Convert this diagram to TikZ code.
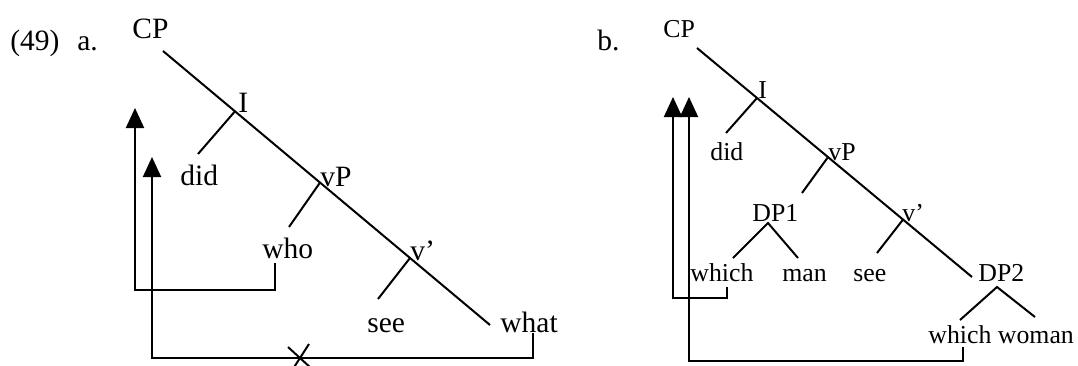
\documentclass[tikz,border=0pt]{standalone}
\usepackage{fontspec}
\setmainfont{Liberation Serif}
\usetikzlibrary{arrows.meta}
\begin{document}
\begin{tikzpicture}[x=0.5pt,y=-0.5pt,
  lab/.style={anchor=base west,inner sep=0pt,font=\fontsize{14.75}{17}\selectfont},
  labb/.style={anchor=base west,inner sep=0pt,font=\fontsize{12.9}{15}\selectfont},
  edge/.style={line width=1pt},
  mv/.style={line width=1pt,-{Triangle[length=10pt,width=9pt]}}]
\useasboundingbox (0,0) rectangle (1078,365);

% ---------- panel a ----------
\node[lab] (ex) at (10,50) {(49)};
\node[lab] (la) at (77,50) {a.};
\node[lab] (cpa) at (132,38) {CP};
\node[lab] (Ia) at (238,112) {I};
\node[lab] (dida) at (180,185) {did};
\node[lab] (vPa) at (320,186) {vP};
\node[lab] (whoa) at (262,258) {who};
\node[lab] (vba) at (410,260) {v’};
\node[lab] (seea) at (367,332) {see};
\node[lab] (whata) at (500,332) {what};

\coordinate (sa) at (163,51);
\coordinate (ea) at (490,325);
\coordinate (jIa) at (235,111.3);
\coordinate (jvPa) at (320,182.6);
\coordinate (jva) at (410,258);
\coordinate (tdida) at (198,154);
\coordinate (twhoa) at (289,227);
\coordinate (tseea) at (378,299);

\draw[edge] (sa) -- (ea);
\draw[edge] (jIa) -- (tdida);
\draw[edge] (jvPa) -- (twhoa);
\draw[edge] (jva) -- (tseea);

% movement arrows a
\coordinate (ma1) at (275,263);
\coordinate (ma2) at (275,290);
\coordinate (ma3) at (135,290);
\coordinate (ma4) at (135,108);
\draw[mv] (ma1) -- (ma2) -- (ma3) -- (ma4);
\coordinate (na1) at (533,333);
\coordinate (na2) at (533,358);
\coordinate (na3) at (152,358);
\coordinate (na4) at (152,157);
\draw[mv] (na1) -- (na2) -- (na3) -- (na4);
% crossing mark
\coordinate (x1) at (288,347);
\coordinate (x2) at (312,369);
\coordinate (x3) at (309,344);
\coordinate (x4) at (291,372);
\draw[edge] (x1) -- (x2);
\draw[edge] (x3) -- (x4);

% ---------- panel b ----------
\node[lab] (lb) at (597,50) {b.};
\node[labb] (cpb) at (663,37) {CP};
\node[labb] (Ib) at (758,98) {I};
\node[labb] (didb) at (710,160) {did};
\node[labb] (vPb) at (828,160) {vP};
\node[labb] (dp1) at (752,221) {DP1};
\node[labb] (vbb) at (902,221) {v’};
\node[labb] (which) at (690,281) {which};
\node[labb] (man) at (782,281) {man};
\node[labb] (seeb) at (853,281) {see};
\node[labb] (dp2) at (978,281) {DP2};
\node[labb] (ww) at (928,343) {which woman};

\coordinate (sb) at (697,48);
\coordinate (eb) at (972,277);
\coordinate (jIb) at (757,98);
\coordinate (jvPb) at (828,157.1);
\coordinate (jvb) at (903,219.6);
\coordinate (tdidb) at (726,133);
\coordinate (tdp1) at (802,193);
\coordinate (tseeb) at (877,253);
\coordinate (a1) at (768,223);
\coordinate (a1l) at (733,258);
\coordinate (a1r) at (798,258);
\coordinate (a2) at (997,287);
\coordinate (a2l) at (960,320);
\coordinate (a2r) at (1035,317);

\draw[edge] (sb) -- (eb);
\draw[edge] (jIb) -- (tdidb);
\draw[edge] (jvPb) -- (tdp1);
\draw[edge] (jvb) -- (tseeb);
\draw[edge] (a1l) -- (a1) -- (a1r);
\draw[edge] (a2l) -- (a2) -- (a2r);

% movement arrows b
\coordinate (mb1) at (727,287);
\coordinate (mb2) at (727,298);
\coordinate (mb3) at (673,298);
\coordinate (mb4) at (673,97);
\draw[mv] (mb1) -- (mb2) -- (mb3) -- (mb4);
\coordinate (nb1) at (963,347);
\coordinate (nb2) at (963,361);
\coordinate (nb3) at (689,361);
\coordinate (nb4) at (689,97);
\draw[mv] (nb1) -- (nb2) -- (nb3) -- (nb4);
\end{tikzpicture}
\end{document}
